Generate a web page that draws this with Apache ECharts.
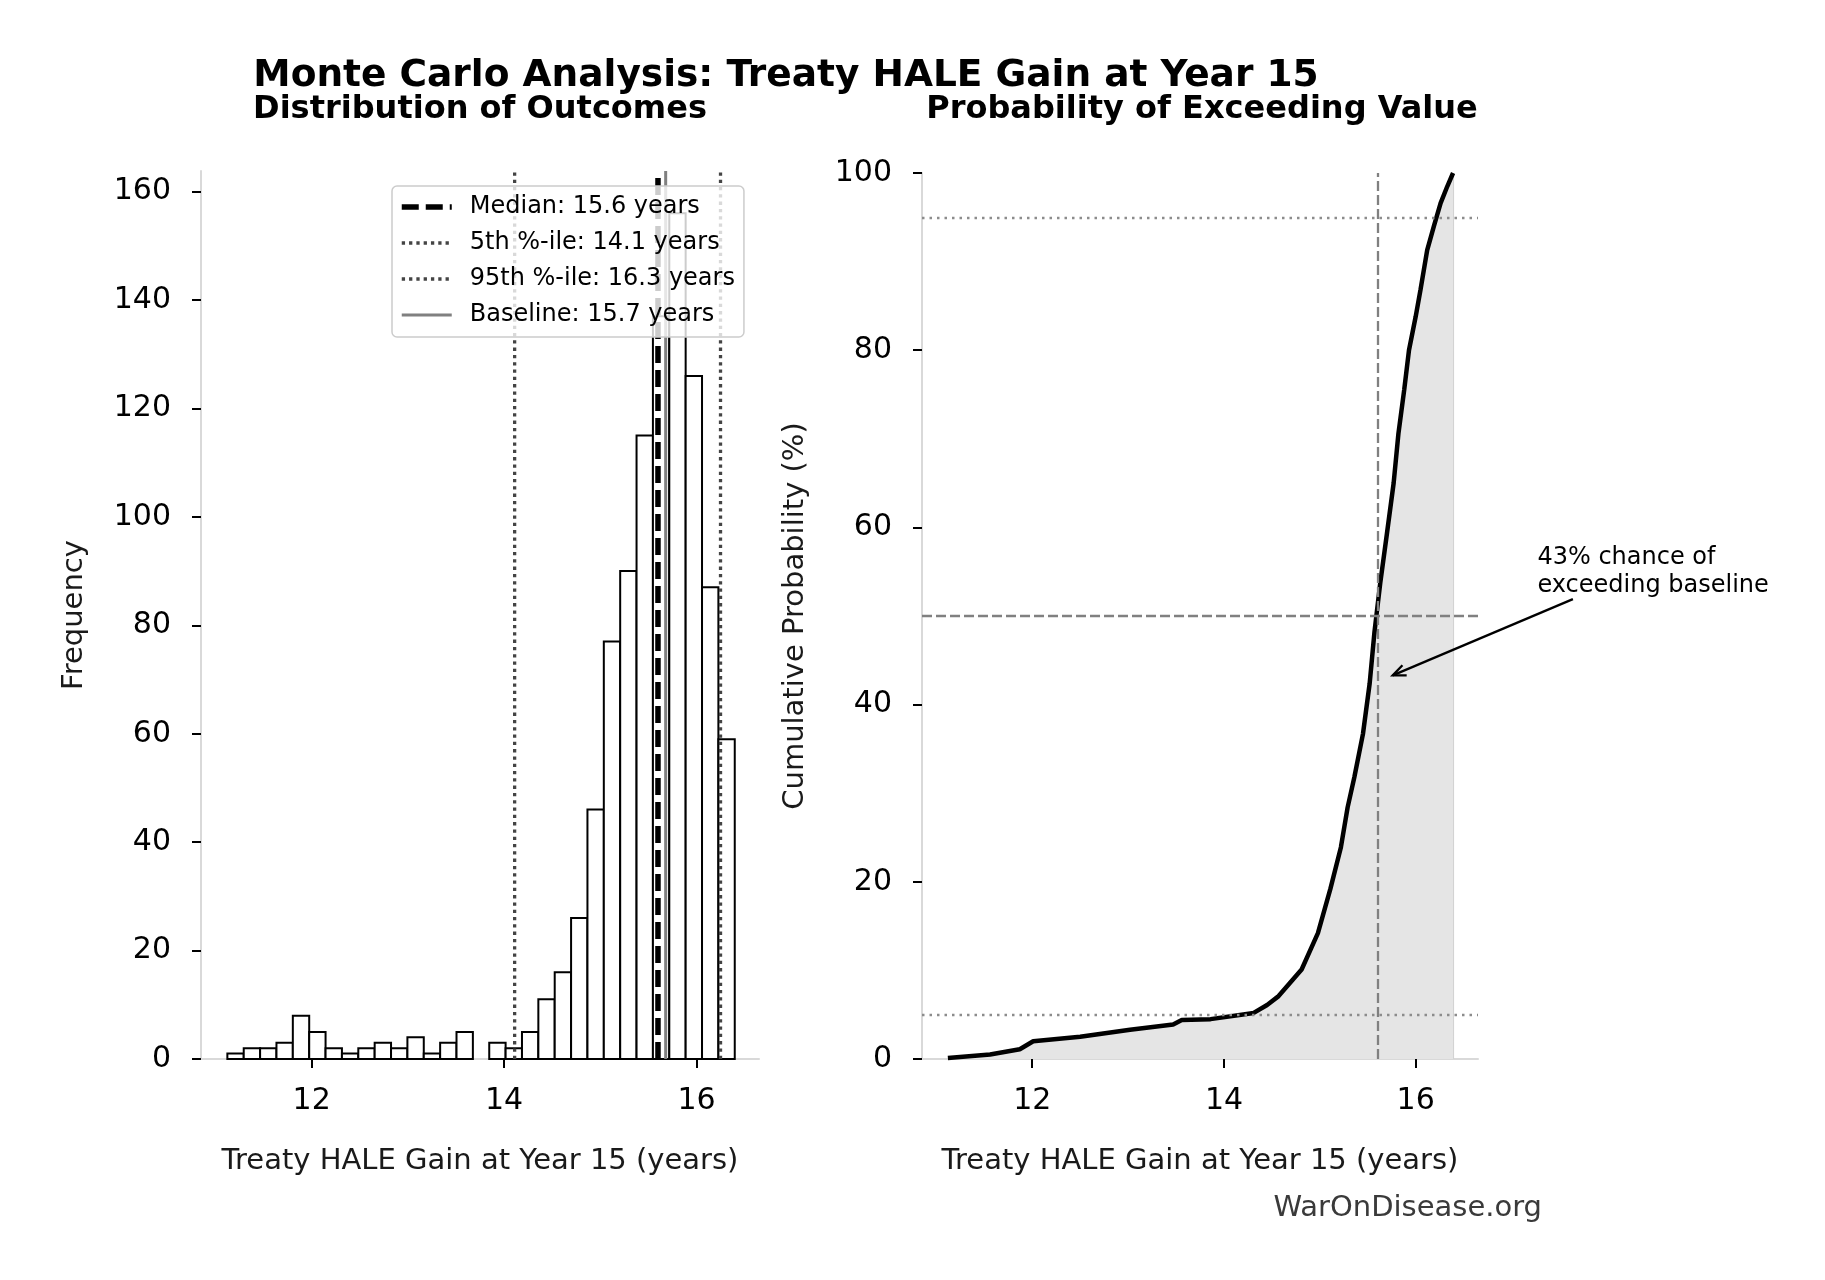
<!DOCTYPE html>
<html lang="en">
<head>
<meta charset="utf-8">
<script src="https://cdn.jsdelivr.net/npm/echarts@6/dist/echarts.min.js"></script>
<style>
    html,body{margin:0;padding:0;background:#fff}
    #main{width:1825px;height:1280px}
</style>
</head>
<body>
<div id="main"></div>
<script type="text/javascript">
    // histogram: 31 equal bins between binStart and binEnd
    var binStart = 11.124;
    var binEnd = 16.398;
    var binCounts = [1,2,2,3,8,5,2,1,2,3,2,4,1,3,5,0,3,2,5,11,16,26,46,77,90,115,137,156,126,87,59];

    // vertical reference lines (left panel legend)
    var refNames = ['Median: 15.6 years', '5th %-ile: 14.1 years', '95th %-ile: 16.3 years', 'Baseline: 15.7 years'];
    var refValues = [15.6, 14.11, 16.25, 15.68];

    // cumulative curve
    var cdfX = [11.12,11.56,11.87,12.01,12.5,13.02,13.47,13.56,13.86,14.31,14.45,14.57,14.81,14.98,15.11,15.22,15.29,15.36,15.45,15.52,15.57,15.63,15.70,15.77,15.82,15.88,15.93,16.0,16.05,16.12,16.19,16.26,16.33,16.39];
    var cdfY = [0.1,0.5,1.1,2.0,2.5,3.3,3.9,4.4,4.5,5.2,6.1,7.1,10.1,14.2,19.2,23.9,28.4,31.8,36.7,42.4,48.2,53.7,59.3,65.0,70.6,75.5,80.0,83.8,86.8,91.3,94.0,96.6,98.5,100];

    var xTicks = [12, 14, 16];
    var pctLines = [5, 50, 95];

    // annotation on the right panel
    var annText = '43% chance of\nexceeding baseline';
    var annPoint = [15.76, 43.3];
    var annTail = [17.64, 51.9];
    var annTextAt = [17.27, 58.1];

    var FONT = 'DejaVu Sans';
    var xMin = 10.85, xMax = 16.65;
    var leftYMax = 163.8;

    var myChart = echarts.init(document.getElementById('main'));

    function makeX(idx) {
        return {
            type: 'value', gridIndex: idx, min: xMin, max: xMax,
            name: 'Treaty HALE Gain at Year 15 (years)',
            nameLocation: 'middle', nameGap: 88,
            nameTextStyle: {fontSize: 29, color: '#1a1a1a', fontFamily: FONT},
            axisLine: {onZero: false, lineStyle: {color: '#d9d9d9', width: 2}},
            axisTick: {customValues: xTicks, length: 9, lineStyle: {color: '#000', width: 2}},
            axisLabel: {customValues: xTicks, fontSize: 30, color: '#000', margin: 27, fontFamily: FONT},
            splitLine: {show: false}
        };
    }
    function makeY(idx, max, name) {
        return {
            type: 'value', gridIndex: idx, min: 0, max: max, interval: 20,
            name: name, nameLocation: 'middle', nameGap: 112,
            nameTextStyle: {fontSize: 29, color: '#1a1a1a', fontFamily: FONT},
            axisLine: {show: true, lineStyle: {color: '#d9d9d9', width: 2}},
            axisTick: {show: true, length: 9, lineStyle: {color: '#000', width: 2}},
            axisLabel: {fontSize: 30, color: '#000', margin: 30, fontFamily: FONT},
            splitLine: {show: false}
        };
    }

    var binW = (binEnd - binStart) / binCounts.length;
    var histData = [];
    for (var i = 0; i < binCounts.length; i++) {
        histData.push([binStart + i * binW, binStart + (i + 1) * binW, binCounts[i]]);
    }

    var refStyles = [
        {color: '#000', width: 5.5, type: [17, 7]},
        {color: '#444', width: 3.3, type: [3.3, 4]},
        {color: '#444', width: 3.3, type: [3.3, 4]},
        {color: '#808080', width: 3, type: 'solid'}
    ];

    var series = [{
        type: 'custom', xAxisIndex: 0, yAxisIndex: 0, z: 2, silent: true,
        data: histData,
        encode: {x: [0, 1], y: 2},
        renderItem: function (params, api) {
            if (api.value(2) <= 0) return null;
            var p0 = api.coord([api.value(0), api.value(2)]);
            var p1 = api.coord([api.value(1), 0]);
            return {
                type: 'rect',
                shape: {x: p0[0], y: p0[1], width: p1[0] - p0[0], height: p1[1] - p0[1]},
                style: {fill: '#fff', stroke: '#000', lineWidth: 2}
            };
        }
    }];
    for (var k = 0; k < refNames.length; k++) {
        series.push({
            name: refNames[k], type: 'line', xAxisIndex: 0, yAxisIndex: 0, z: 3,
            symbol: 'none', silent: true,
            data: [[refValues[k], 0], [refValues[k], leftYMax]],
            lineStyle: refStyles[k]
        });
    }

    var mlData = [];
    for (var j = 0; j < pctLines.length; j++) {
        var dashed = pctLines[j] === 50;
        mlData.push({
            yAxis: pctLines[j],
            lineStyle: dashed ? {color: '#808080', width: 2.3, type: [10, 4]} : {color: '#8c8c8c', width: 2.3, type: [2.5, 5]}
        });
    }
    mlData.push({xAxis: refValues[0], lineStyle: {color: '#808080', width: 2.3, type: [10, 4]}});

    series.push({
        type: 'line', xAxisIndex: 1, yAxisIndex: 1, z: 3, symbol: 'none', silent: true,
        data: cdfX.map(function (x, i) { return [x, cdfY[i]]; }),
        lineStyle: {color: '#000', width: 4.5},
        areaStyle: {color: '#e5e5e5', opacity: 1},
        markLine: {silent: true, symbol: ['none', 'none'], label: {show: false}, data: mlData}
    });
    // faint outline on the right edge of the filled area
    series.push({
        type: 'line', xAxisIndex: 1, yAxisIndex: 1, z: 2, symbol: 'none', silent: true,
        data: [[cdfX[cdfX.length - 1], 0], [cdfX[cdfX.length - 1], cdfY[cdfY.length - 1]]],
        lineStyle: {color: '#d2d2d2', width: 2}
    });

    myChart.setOption({
        animation: false,
        textStyle: {fontFamily: FONT},
        grid: [
            {left: 201, top: 171, width: 558, height: 888},
            {left: 922, top: 173, width: 556, height: 886}
        ],
        xAxis: [makeX(0), makeX(1)],
        yAxis: [makeY(0, leftYMax, 'Frequency'), makeY(1, 100, 'Cumulative Probability (%)')],
        legend: {
            orient: 'vertical', left: 392, top: 186, padding: [9, 9, 10, 7],
            itemWidth: 50, itemHeight: 20, itemGap: 12,
            backgroundColor: 'rgba(255,255,255,0.8)', borderColor: '#cccccc', borderWidth: 1.5, borderRadius: 5,
            itemStyle: {opacity: 0},
            textStyle: {fontSize: 24, color: '#000', fontFamily: FONT, padding: [0, 0, 0, 13], lineHeight: 24},
            data: refNames.map(function (n, i) { return {name: n, lineStyle: refStyles[i], itemStyle: {opacity: 0}}; })
        },
        series: series
    });

    // annotation and titles
    var tip = myChart.convertToPixel({gridIndex: 1}, annPoint);
    var tail = myChart.convertToPixel({gridIndex: 1}, annTail);
    var tpos = myChart.convertToPixel({gridIndex: 1}, annTextAt);
    var ang = Math.atan2(tail[1] - tip[1], tail[0] - tip[0]);
    var hl = 14, spread = 0.4;
    var h1 = [tip[0] + hl * Math.cos(ang - spread), tip[1] + hl * Math.sin(ang - spread)];
    var h2 = [tip[0] + hl * Math.cos(ang + spread), tip[1] + hl * Math.sin(ang + spread)];

    myChart.setOption({
        graphic: [
            {type: 'text', z: 100, x: 786, y: 76, style: {text: 'Monte Carlo Analysis: Treaty HALE Gain at Year 15', font: 'bold 37.5px "DejaVu Sans"', fill: '#000', textAlign: 'center', textVerticalAlign: 'middle'}},
            {type: 'text', z: 100, x: 480, y: 110, style: {text: 'Distribution of Outcomes', font: 'bold 32px "DejaVu Sans"', fill: '#000', textAlign: 'center', textVerticalAlign: 'middle'}},
            {type: 'text', z: 100, x: 1202, y: 110, style: {text: 'Probability of Exceeding Value', font: 'bold 32px "DejaVu Sans"', fill: '#000', textAlign: 'center', textVerticalAlign: 'middle'}},
            {type: 'text', z: 100, x: 1542, y: 1208, style: {text: 'WarOnDisease.org', font: '29px "DejaVu Sans"', fill: '#3a3a3a', textAlign: 'right', textVerticalAlign: 'middle'}},
            {type: 'text', z: 100, x: tpos[0], y: tpos[1], style: {text: annText, font: '24px "DejaVu Sans"', fill: '#000', lineHeight: 27.7, textAlign: 'left', textVerticalAlign: 'top'}},
            {type: 'line', z: 100, shape: {x1: tail[0], y1: tail[1], x2: tip[0], y2: tip[1]}, style: {stroke: '#000', lineWidth: 2.3}},
            {type: 'polyline', z: 100, shape: {points: [h1, tip, h2]}, style: {stroke: '#000', lineWidth: 2.3, fill: null}}
        ]
    });
</script>
</body>
</html>
